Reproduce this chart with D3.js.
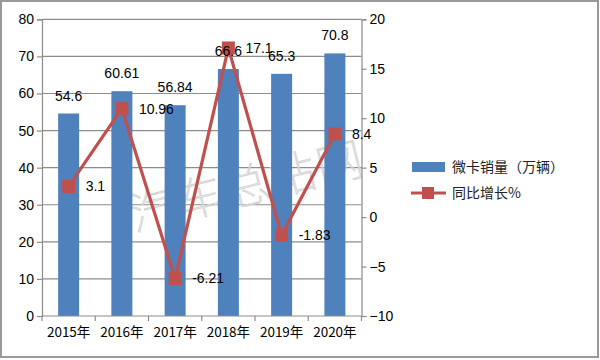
<!DOCTYPE html>
<html><head><meta charset="utf-8">
<script src="https://cdn.jsdelivr.net/npm/d3@7"></script>
<style>html,body{margin:0;padding:0;background:#fff;}svg{display:block;font-family:"Noto Sans CJK SC","DejaVu Sans",sans-serif;}</style>
</head><body><svg id="c" width="600" height="360"></svg>
<script>
const categories = ["2015年","2016年","2017年","2018年","2019年","2020年"];
const sales = [54.6, 60.61, 56.84, 66.6, 65.3, 70.8];
const growth = [3.1, 10.96, -6.21, 17.1, -1.83, 8.4];
const salesLabels = ["54.6","60.61","56.84","66.6","65.3","70.8"];
const growthLabels = ["3.1","10.96","-6.21","17.1","-1.83","8.4"];
const leftTicks = [0,10,20,30,40,50,60,70,80];
const rightTicks = [-10,-5,0,5,10,15,20];
const legendNames = ["微卡销量（万辆）","同比增长%"];

const svg = d3.select("#c");
const font = "'Liberation Sans', 'DejaVu Sans', sans-serif";
const barColor = "#4F81BD", lineColor = "#C0504D", gridColor = "#8c8c8c";
const L = 42, R = 361.5, T = 19.3, B = 316;

svg.append("rect").attr("x",1).attr("y",1).attr("width",597).attr("height",356)
  .attr("fill","#fff").attr("stroke","#999").attr("stroke-width",2);

const xb = d3.scaleBand().domain(categories).range([L,R]);
const yL = d3.scaleLinear().domain([0,80]).range([B,T]);
const yR = d3.scaleLinear().domain([-10,20]).range([B,T]);

// gridlines
svg.append("g").selectAll("line").data(leftTicks.filter(d=>d>0)).join("line")
  .attr("x1",L).attr("x2",R).attr("y1",d=>yL(d)).attr("y2",d=>yL(d))
  .attr("stroke",gridColor).attr("stroke-width",1.2);

// watermark
svg.append("text").attr("transform","translate(248,190) rotate(-14)")
  .attr("text-anchor","middle").attr("dominant-baseline","middle")
  .attr("font-family","'Noto Sans CJK SC'").attr("font-weight",100).attr("font-size",46)
  .attr("fill","none").attr("stroke","#d4d4d4").attr("stroke-width",1)
  .attr("letter-spacing",2).text("汽车总站网");

// bars
svg.append("g").selectAll("rect").data(sales).join("rect")
  .attr("x",(d,i)=>xb(categories[i])+xb.bandwidth()/2-10.5).attr("width",21)
  .attr("y",d=>yL(d)).attr("height",d=>B-yL(d)).attr("fill",barColor);

// axes
const axL = svg.append("g").attr("transform",`translate(${L},0)`)
  .call(d3.axisLeft(yL).tickValues(leftTicks).tickSize(5).tickPadding(3));
const axR = svg.append("g").attr("transform",`translate(${R},0)`)
  .call(d3.axisRight(yR).tickValues(rightTicks).tickSize(5).tickPadding(3));
const axB = svg.append("g").attr("transform",`translate(0,${B})`)
  .call(d3.axisBottom(xb).tickSize(0).tickPadding(11));
svg.append("g").selectAll("line").data(d3.range(categories.length+1)).join("line")
  .attr("x1",i=>L+i*xb.step()).attr("x2",i=>L+i*xb.step())
  .attr("y1",B).attr("y2",B+5).attr("stroke",gridColor).attr("stroke-width",1.2);
[axL,axR,axB].forEach(a=>{
  a.selectAll(".domain").attr("stroke",gridColor).attr("stroke-width",1.2);
  a.selectAll(".tick line").attr("stroke",gridColor).attr("stroke-width",1.2);
  a.selectAll("text").attr("font-family",font).attr("font-size",14).attr("fill","#000");
});
axB.select(".domain").attr("d",`M${L},0H${R}`);
axB.selectAll("text").attr("font-family","'Noto Sans CJK SC'").attr("font-size",13.5);

// line
const cx = i => xb(categories[i])+xb.bandwidth()/2;
svg.append("path").datum(growth)
  .attr("d",d3.line().x((d,i)=>cx(i)).y(d=>yR(d)))
  .attr("fill","none").attr("stroke",lineColor).attr("stroke-width",3.2).attr("stroke-linejoin","round");
svg.append("g").selectAll("rect").data(growth).join("rect")
  .attr("x",(d,i)=>cx(i)-6.5).attr("y",d=>yR(d)-6.5).attr("width",13).attr("height",13)
  .attr("fill",lineColor);

// labels
svg.append("g").selectAll("text").data(sales).join("text")
  .attr("x",(d,i)=>cx(i)).attr("y",d=>yL(d)-13).attr("text-anchor","middle")
  .attr("font-family",font).attr("font-size",14).text((d,i)=>salesLabels[i]);
svg.append("g").selectAll("text").data(growth).join("text")
  .attr("x",(d,i)=>cx(i)+17).attr("y",d=>yR(d)).attr("dy","0.35em")
  .attr("font-family",font).attr("font-size",14).text((d,i)=>growthLabels[i]);

// legend
const lg = svg.append("g");
lg.append("rect").attr("x",412).attr("y",162).attr("width",33).attr("height",10).attr("fill",barColor);
lg.append("text").attr("x",452).attr("y",167).attr("dy","0.35em").attr("font-family","'Noto Sans CJK SC'")
  .attr("font-size",14).attr("fill","#222").text(legendNames[0]);
lg.append("line").attr("x1",411).attr("x2",446).attr("y1",193).attr("y2",193)
  .attr("stroke",lineColor).attr("stroke-width",3.2);
lg.append("rect").attr("x",422).attr("y",187).attr("width",12).attr("height",12).attr("fill",lineColor);
lg.append("text").attr("x",452).attr("y",193).attr("dy","0.35em").attr("font-family","'Noto Sans CJK SC'")
  .attr("font-size",14).attr("fill","#222").text(legendNames[1]);
</script></body></html>
